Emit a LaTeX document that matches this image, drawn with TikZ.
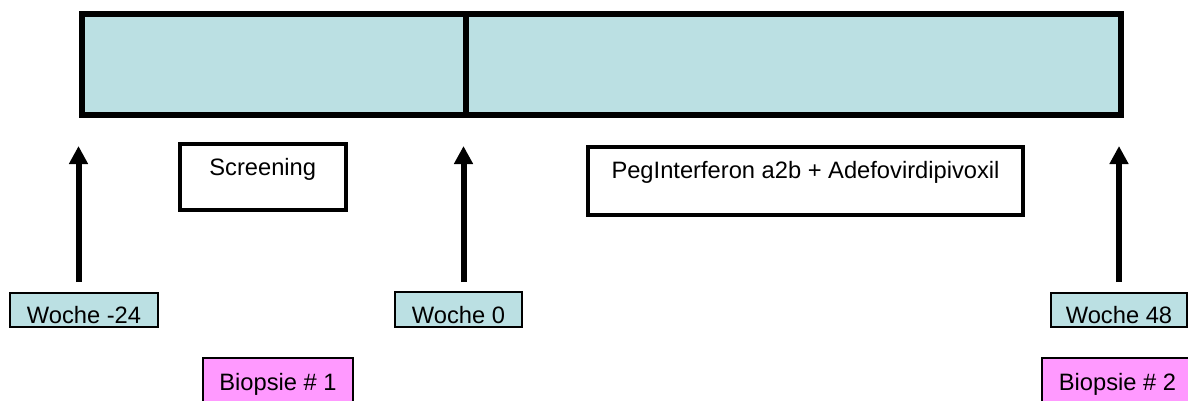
\documentclass[tikz,border=0pt]{standalone}
\usepackage{fontspec}
\setmainfont{Liberation Sans}
\usetikzlibrary{arrows.meta}
\definecolor{phaseblue}{HTML}{BBE0E3}
\definecolor{biopink}{HTML}{FF99FF}
\tikzstyle{phase_bar} = [draw, line width=6pt, fill=phaseblue]
\tikzstyle{phase_label} = [draw, line width=4pt, inner sep=0pt]
\tikzstyle{week_box} = [draw, line width=2pt, fill=phaseblue, inner sep=0pt, text height=27pt, text depth=0pt]
\tikzstyle{biopsy_box} = [draw, line width=2pt, fill=biopink, inner sep=0pt, text height=24pt, text depth=12pt]
\tikzstyle{arrow_up} = [line width=6pt, -{Triangle[width=18pt,length=18pt]}]

\begin{document}
\begin{tikzpicture}[x=1pt, y=-1pt, font=\fontsize{23.7}{28}\selectfont]
		\useasboundingbox (0,0) rectangle (1188,401);
		\clip (0,0) rectangle (1188,401);
		\def\tip{146}
		\def\foot{282}
		% time bar
		\draw[phase_bar] (81.5,14) rectangle (1121,115);
		\draw[line width=6pt] (466,14) -- (466,115);
		% phases
		\node (S) at (262.75,176.75) [phase_label, minimum width=166.5pt, minimum height=66.5pt, text height=20pt, text depth=22.5pt] {Screening};
		\node (T) at (805.5,180.5) [phase_label, minimum width=435pt, minimum height=68pt, text height=20pt, text depth=24pt] {PegInterferon a2b + Adefovirdipivoxil};
		% weeks
		\node (W1) at (84,310) [week_box, minimum width=148pt, minimum height=34pt] {Woche -24};
		\node (W2) at (458.5,309.5) [week_box, minimum width=127pt, minimum height=35pt] {Woche 0};
		\node (W3) at (1119,310) [week_box, minimum width=136pt, minimum height=34pt] {Woche 48};
		% biopsies
		\node (B1) at (278,384) [biopsy_box, minimum width=150pt, minimum height=52pt] {Biopsie \# 1};
		\node (B2) at (1117.5,384) [biopsy_box, minimum width=151pt, minimum height=52pt] {Biopsie \# 2};
		% time points
		\coordinate (A1) at (78.5,\foot);  \coordinate (P1) at (78.5,\tip);
		\coordinate (A2) at (463.5,\foot); \coordinate (P2) at (463.5,\tip);
		\coordinate (A3) at (1119,\foot);  \coordinate (P3) at (1119,\tip);
		\draw[arrow_up] (A1)--(P1);
		\draw[arrow_up] (A2)--(P2);
		\draw[arrow_up] (A3)--(P3);
\end{tikzpicture}
\end{document}
